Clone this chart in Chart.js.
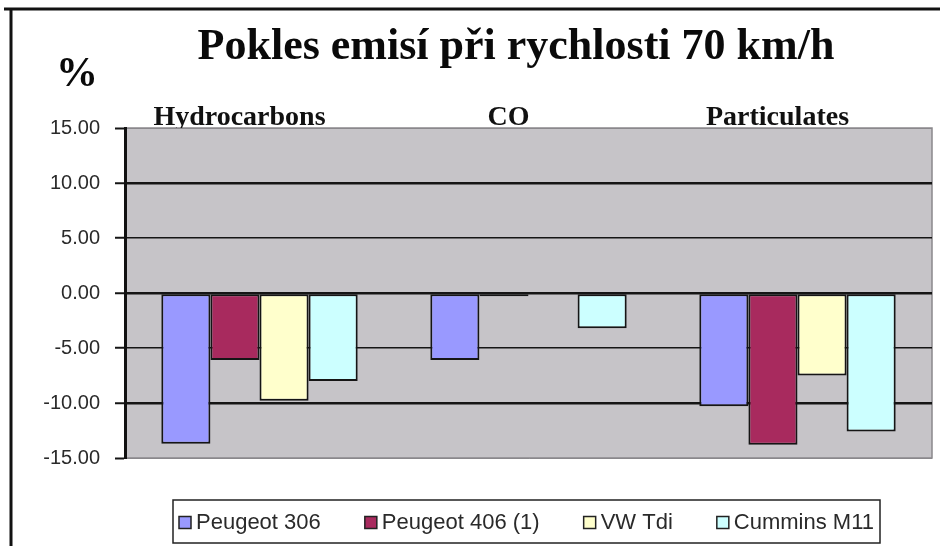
<!DOCTYPE html>
<html>
<head>
<meta charset="utf-8">
<script src="https://cdn.jsdelivr.net/npm/chart.js@4"></script>
<style>
  html, body { margin: 0; padding: 0; background: #fff; }
  #wrap { position: relative; width: 940px; height: 546px; }
</style>
</head>
<body>
<div id="wrap"><canvas id="emChart" width="940" height="546"></canvas></div>
<script>
const categories = ["Hydrocarbons", "CO", "Particulates"];
const seriesNames = ["Peugeot 306", "Peugeot 406 (1)", "VW Tdi", "Cummins M11"];
const peugeot306 = [-13.7, -6.1, -10.3];
const peugeot406 = [-6.1, -0.3, -13.8];
const vwTdi = [-9.8, 0, -7.5];
const cumminsM11 = [-8.0, -3.2, -12.6];
const yMin = -15, yMax = 15, yStep = 5;
const chartTitle = "Pokles emisí při rychlosti 70 km/h";
const unitLabel = "%";
const seriesColors = ["#9999ff", "#a82a5e", "#ffffcc", "#ccffff"];

const serif = "'Liberation Serif', 'Times New Roman', serif";
const sans = "'Liberation Sans', Arial, sans-serif";

// frame, grey plot area, title, "%" and the boxed legend
const decor = {
  id: "decor",
  beforeDraw(chart) {
    const { ctx, chartArea: a } = chart;
    ctx.save();
    ctx.fillStyle = "#c6c4c8";
    ctx.fillRect(a.left, a.top, a.right - a.left, a.bottom - a.top);
    ctx.strokeStyle = "#8a888c";
    ctx.lineWidth = 1.5;
    ctx.strokeRect(a.left, a.top, a.right - a.left, a.bottom - a.top);
    ctx.strokeStyle = "#111";
    ctx.lineWidth = 3;
    ctx.beginPath();
    ctx.moveTo(4, 9); ctx.lineTo(940, 9);
    ctx.moveTo(11, 8); ctx.lineTo(11, 546);
    ctx.stroke();
    ctx.restore();
  },
  afterDraw(chart) {
    const ctx = chart.ctx;
    ctx.save();
    ctx.fillStyle = "#0a0a0a";
    ctx.textAlign = "center";
    ctx.textBaseline = "middle";
    ctx.font = "bold 44px " + serif;
    ctx.fillText(chartTitle, 516, 48);
    ctx.font = "bold 42px " + serif;
    ctx.fillText(unitLabel, 77, 75);

    // legend
    const box = { left: 173, right: 880, top: 500, bottom: 543 };
    ctx.strokeStyle = "#222";
    ctx.lineWidth = 1.5;
    ctx.strokeRect(box.left, box.top, box.right - box.left, box.bottom - box.top);
    ctx.font = "22px " + sans;
    const sw = 12, gapIn = 5, pad = 6;
    const widths = chart.data.datasets.map(d => sw + gapIn + ctx.measureText(d.label).width);
    const total = widths.reduce((s, w) => s + w, 0);
    const gap = (box.right - box.left - 2 * pad - total) / (widths.length - 1);
    const cy = (box.top + box.bottom) / 2 + 1;
    let x = box.left + pad;
    ctx.textAlign = "left";
    chart.data.datasets.forEach((d, i) => {
      ctx.fillStyle = d.backgroundColor;
      ctx.fillRect(x, cy - sw / 2, sw, sw);
      ctx.strokeStyle = "#222";
      ctx.lineWidth = 1.5;
      ctx.strokeRect(x, cy - sw / 2, sw, sw);
      ctx.fillStyle = "#2a2a2a";
      ctx.fillText(d.label, x + sw + gapIn, cy);
      x += widths[i] + gap;
    });
    ctx.restore();
  }
};

const seriesData = [peugeot306, peugeot406, vwTdi, cumminsM11];

new Chart(document.getElementById("emChart"), {
  type: "bar",
  data: {
    labels: categories,
    datasets: seriesNames.map((name, i) => ({
      label: name,
      data: seriesData[i],
      backgroundColor: seriesColors[i],
      borderColor: "#151515",
      borderWidth: 2,
      borderSkipped: false,
      barPercentage: 1,
      categoryPercentage: 0.73
    }))
  },
  options: {
    responsive: false,
    animation: false,
    layout: { padding: { left: 40, right: 8, top: 92, bottom: 88 } },
    plugins: {
      legend: { display: false },
      tooltip: { enabled: false },
      title: { display: false }
    },
    scales: {
      x: {
        position: "top",
        grid: { display: false, drawTicks: false },
        border: { display: false },
        ticks: {
          color: "#111",
          padding: -7,
          labelOffset: -20,
          font: { family: serif, size: 28, weight: "bold", lineHeight: 1.2 }
        },
        afterFit(scale) { scale.height = 36; }
      },
      y: {
        min: yMin,
        max: yMax,
        ticks: {
          stepSize: yStep,
          color: "#2a2a2a",
          padding: 15,
          font: { family: sans, size: 20 },
          callback: v => v.toFixed(2)
        },
        grid: {
          color: ctx => (Math.abs(ctx.tick.value) === 15 ? "#8a888c" : "#151515"),
          lineWidth: ctx => {
            const v = Math.abs(ctx.tick.value);
            if (v === 15) return 1;
            return v === 5 ? 1.5 : 2.5;
          },
          tickColor: "#151515",
          tickWidth: 2,
          tickLength: 10
        },
        border: { color: "#111", width: 3 },
        afterFit(scale) { scale.width = 85; }
      }
    }
  },
  plugins: [decor]
});
</script>
</body>
</html>
